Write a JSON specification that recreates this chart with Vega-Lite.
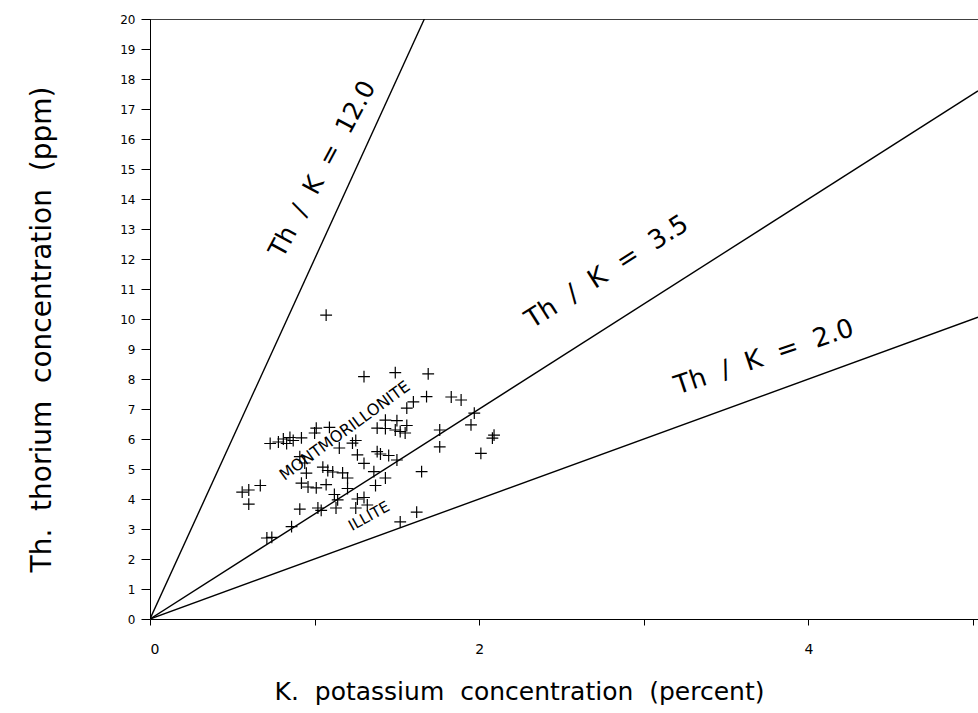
{
  "$schema": "https://vega.github.io/schema/vega-lite/v6.json",
  "autosize": "none",
  "width": 828,
  "height": 600,
  "padding": {"left": 150, "top": 19, "right": 0, "bottom": 94},
  "background": "white",
  "config": {
    "view": {"stroke": null},
    "axis": {"grid": false, "domainColor": "black", "tickColor": "black", "labelColor": "black", "titleColor": "black", "labelFont": "DejaVu Sans", "titleFont": "DejaVu Sans", "titleFontWeight": "normal", "labelOverlap": false}
  },
  "datasets": {
    "pts": [
      {"k": 1.07, "th": 10.13}, {"k": 1.30, "th": 8.08}, {"k": 1.49, "th": 8.21}, {"k": 1.69, "th": 8.17},
      {"k": 1.68, "th": 7.41}, {"k": 1.83, "th": 7.40}, {"k": 1.89, "th": 7.30}, {"k": 1.60, "th": 7.24},
      {"k": 1.56, "th": 7.03}, {"k": 1.97, "th": 6.86}, {"k": 1.95, "th": 6.47}, {"k": 1.76, "th": 6.30},
      {"k": 2.09, "th": 6.13}, {"k": 2.08, "th": 6.03}, {"k": 2.01, "th": 5.52}, {"k": 1.76, "th": 5.74},
      {"k": 1.65, "th": 4.91}, {"k": 1.52, "th": 3.24}, {"k": 1.62, "th": 3.56}, {"k": 1.43, "th": 6.63},
      {"k": 1.50, "th": 6.61}, {"k": 1.38, "th": 6.36}, {"k": 1.43, "th": 6.35}, {"k": 1.49, "th": 6.30},
      {"k": 1.55, "th": 6.20}, {"k": 1.52, "th": 6.25}, {"k": 1.56, "th": 6.45}, {"k": 1.38, "th": 5.58},
      {"k": 1.40, "th": 5.50}, {"k": 1.45, "th": 5.45}, {"k": 1.50, "th": 5.30}, {"k": 1.36, "th": 4.91},
      {"k": 1.43, "th": 4.70}, {"k": 1.37, "th": 4.45}, {"k": 1.01, "th": 6.36}, {"k": 1.09, "th": 6.39},
      {"k": 0.73, "th": 5.85}, {"k": 0.78, "th": 5.90}, {"k": 0.81, "th": 6.00}, {"k": 0.83, "th": 5.85},
      {"k": 0.85, "th": 6.05}, {"k": 0.87, "th": 5.95}, {"k": 0.92, "th": 6.04}, {"k": 1.00, "th": 6.20},
      {"k": 1.23, "th": 5.86}, {"k": 1.26, "th": 5.47}, {"k": 1.30, "th": 5.19}, {"k": 0.91, "th": 5.41},
      {"k": 0.95, "th": 4.86}, {"k": 1.05, "th": 5.06}, {"k": 1.08, "th": 4.95}, {"k": 1.11, "th": 4.90},
      {"k": 1.17, "th": 4.87}, {"k": 1.20, "th": 4.70}, {"k": 0.92, "th": 4.53}, {"k": 0.96, "th": 4.40},
      {"k": 1.01, "th": 4.37}, {"k": 1.07, "th": 4.48}, {"k": 0.56, "th": 4.23}, {"k": 0.60, "th": 4.30},
      {"k": 0.67, "th": 4.45}, {"k": 0.60, "th": 3.83}, {"k": 0.91, "th": 3.66}, {"k": 1.02, "th": 3.70},
      {"k": 1.04, "th": 3.62}, {"k": 1.14, "th": 3.97}, {"k": 1.13, "th": 3.70}, {"k": 1.26, "th": 4.00},
      {"k": 1.30, "th": 4.05}, {"k": 1.25, "th": 3.70}, {"k": 1.32, "th": 3.80}, {"k": 0.86, "th": 3.08},
      {"k": 0.71, "th": 2.70}, {"k": 0.74, "th": 2.72}, {"k": 1.20, "th": 4.35}, {"k": 1.25, "th": 5.95},
      {"k": 1.15, "th": 5.70}, {"k": 0.94, "th": 5.20}, {"k": 1.12, "th": 4.15}
    ],
    "lines": [
      {"ratio": "12.0", "k": 0, "th": 0}, {"ratio": "12.0", "k": 1.6667, "th": 20},
      {"ratio": "3.5", "k": 0, "th": 0}, {"ratio": "3.5", "k": 5.03, "th": 17.605},
      {"ratio": "2.0", "k": 0, "th": 0}, {"ratio": "2.0", "k": 5.03, "th": 10.06},
      {"ratio": "top", "k": 0, "th": 20}, {"ratio": "top", "k": 5.03, "th": 20}
    ]
  },
  "encoding": {
    "x": {"field": "k", "type": "quantitative", "scale": {"domain": [0, 5.03], "nice": false},
      "axis": {"values": [0, 1, 2, 3, 4, 5], "format": "d", "tickSize": 6, "labelExpr": "datum.value == 0 || datum.value == 2 || datum.value == 4 ? datum.label : ''", "labelFontSize": 14, "labelPadding": 17,
        "title": "K.\u00a0 potassium\u00a0 concentration\u00a0 (percent)", "titleFontSize": 25, "titleX": 369, "titleY": 72, "titleAlign": "center", "titleBaseline": "middle"}},
    "y": {"field": "th", "type": "quantitative", "scale": {"domain": [0, 20], "nice": false},
      "axis": {"values": [0,1,2,3,4,5,6,7,8,9,10,11,12,13,14,15,16,17,18,19,20], "format": "d", "tickSize": 9, "labelFontSize": 12, "labelPadding": 6,
        "title": "Th.\u00a0 thorium\u00a0 concentration\u00a0 (ppm)", "titleFontSize": 28, "titleX": -108, "titleY": 310, "titleAngle": -90, "titleAlign": "center", "titleBaseline": "middle"}}
  },
  "layer": [
    {
      "data": {"name": "lines"},
      "mark": {"type": "line", "color": "black", "strokeWidth": 1.4, "clip": true},
      "encoding": {"detail": {"field": "ratio"}}
    },
    {
      "data": {"name": "pts"},
      "mark": {"type": "point", "shape": "M-1,0L1,0M0,-1L0,1", "filled": false, "color": "black", "strokeWidth": 1.2, "size": 140, "opacity": 1}
    },
    {
      "data": {"values": [{"k": 1.047, "th": 15.0, "t": "Th\u00a0 /\u00a0 K\u00a0 =\u00a0 12.0"}]},
      "mark": {"type": "text", "angle": -61.6, "fontSize": 25, "font": "DejaVu Sans", "color": "black", "align": "center", "baseline": "middle"},
      "encoding": {"text": {"field": "t"}}
    },
    {
      "data": {"values": [{"k": 2.775, "th": 11.57, "t": "Th\u00a0 /\u00a0 K\u00a0 =\u00a0 3.5"}]},
      "mark": {"type": "text", "angle": -32.5, "fontSize": 26, "font": "DejaVu Sans", "color": "black", "align": "center", "baseline": "middle"},
      "encoding": {"text": {"field": "t"}}
    },
    {
      "data": {"values": [{"k": 3.73, "th": 8.73, "t": "Th\u00a0 /\u00a0 K\u00a0 =\u00a0 2.0"}]},
      "mark": {"type": "text", "angle": -18.5, "fontSize": 26, "font": "DejaVu Sans", "color": "black", "align": "center", "baseline": "middle"},
      "encoding": {"text": {"field": "t"}}
    },
    {
      "data": {"values": [{"k": 1.184, "th": 6.27, "t": "MONTMORILLONITE"}]},
      "mark": {"type": "text", "angle": -36, "fontSize": 16, "font": "DejaVu Sans", "color": "black", "align": "center", "baseline": "middle"},
      "encoding": {"text": {"field": "t"}}
    },
    {
      "data": {"values": [{"k": 1.33, "th": 3.43, "t": "ILLITE"}]},
      "mark": {"type": "text", "angle": -29, "fontSize": 15, "font": "DejaVu Sans", "color": "black", "align": "center", "baseline": "middle"},
      "encoding": {"text": {"field": "t"}}
    }
  ]
}
